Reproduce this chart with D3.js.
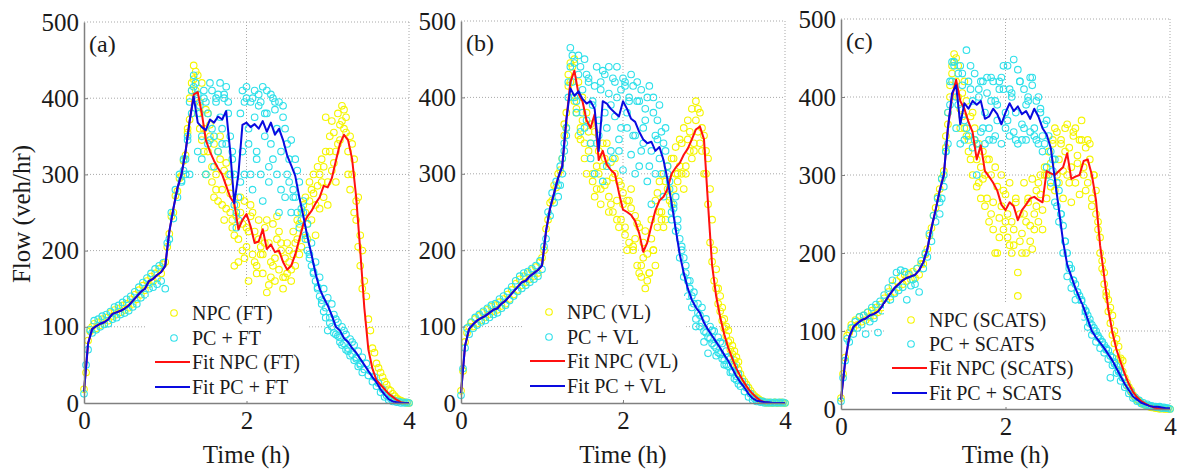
<!DOCTYPE html>
<html><head><meta charset="utf-8">
<script src="https://cdn.jsdelivr.net/npm/d3@7"></script>
<style>
body{margin:0;background:#fff}
svg{display:block}
text{font-family:"Liberation Serif","Times New Roman",serif;fill:#1a1a1a}
</style>
</head><body>
<svg id="chart" width="1183" height="469"></svg>
<script>
// ---------- tick labels / text ----------
const xTicks = [0, 2, 4];
const yTicks = [0, 100, 200, 300, 400, 500];
const panelLabels = ["(a)", "(b)", "(c)"];
const legendA = ["NPC (FT)", "PC + FT", "Fit NPC (FT)", "Fit PC + FT"];
const legendB = ["NPC (VL)", "PC + VL", "Fit NPC (VL)", "Fit PC + VL"];
const legendC = ["NPC (SCATS)", "PC + SCATS", "Fit NPC (SCATS)", "Fit PC + SCATS"];

// ---------- sampling steps (hours) ----------
const fitStep = 0.05;      // fitted curves: t = 0, 0.05, ... 4
const scatterStep = 0.025; // scatter series: t = 0, 0.025, ... 4
const extraStart = 1.2, extra2Start = 1.225, extraStep = 0.05; // extra scatter in the congested period

// ---------- panel (a) FT ----------
const fitNpcA = [15,78,97,101,104,106,110,117,119,121,124,128,134,140,146,150,160,163,168,172,180,225,255,282,300,330,370,
 405,408,380,345,330,318,308,300,285,270,262,228,240,248,232,210,212,228,202,208,198,200,185,175,180,195,215,235,245,252,262,270,285,283,295,318,340,352,345,320,270,200,125,70,45,30,24,18,12,8,4,1,0,0];
const fitPcA = [15,78,97,101,104,106,110,117,119,121,124,128,134,140,146,150,160,163,168,172,180,225,255,282,300,330,370,402,368,362,
 358,372,368,376,372,383,330,262,300,365,368,362,366,360,370,356,368,352,360,345,325,312,298,270,245,218,195,170,150,138,
 128,115,100,95,85,80,72,66,58,50,42,34,27,18,11,5,2,1,0,0,0];
const npcScatterA = [18,40,82,94,100,104,98,106,102,110, 104,112,108,118,114,122,116,124,119,128, 122,130,125,136,130,142,136,148,142,154,
 148,160,156,166,160,170,164,176,170,182, 185,205,222,245,250,272,278,295,298,318, 325,355,372,420,443,410,430,395,420,360,
 385,330,350,290,340,300,265,320,280,305, 255,290,275,240,180,260,215,250,200,265, 230,160,245,195,225,180,240,205,170,230,
 145,210,185,235,160,215,175,200,165,190, 170,200,160,195,180,215,195,250,225,270, 235,290,240,300,220,285,255,320,270,375,
 290,330,305,355,330,380,345,390,360,375, 330,350,300,320,265,270,220,200,160,140, 110,95,72,66,52,46,40,34,28,24, 18,16,12,9,6,4,3,2,1,0,0];
const pcScatterA = [12,50,70,96,92,108,96,110,100,114, 103,116,104,120,110,126,112,128,116,132, 118,136,121,140,126,146,130,152,138,158,
 142,164,150,170,152,176,156,180,160,184, 150,210,215,250,242,280,270,300,292,320, 300,345,300,380,415,400,330,390,320,410,
 300,380,345,410,350,395,330,420,360,400, 340,380,300,320,260,230,240,380,410,300, 400,340,395,280,410,330,390,300,415,350,
 380,290,405,320,385,300,395,330,375,270, 340,290,345,280,320,250,290,240,265,220, 235,195,210,170,185,150,165,135,150,125,
 138,112,100,116,90,106,86,100,78,90, 72,84,64,76,58,68,52,60,44,52, 36,42,28,34,22,26,14,18,8,10, 4,6,2,3,1,2,0,1,0,1,0];
const npcExtraA = [null,null,400,425,380,345,300,365,270,330, 260,315,250,220,185,235,205,260,185,215, 195,240,165,190,225,150,210,175,210,235,
 260,215,280,260,300,310,260,370,290,365, 385,300,340,240,180];
const pcExtraA = [290,320,395,430,405,350,395,420,310,405, 340,415,350,300,270,330,415,300,375,405, 265,410,340,395,250,390,300,250,270,230,
 250,200,180,160,140,120,95,130,110,80, 95,68,80,60,50];
const npcExtra2A = [null,360,410,435,360,330,380,310,280,350, 240,300,230,245,270,190,225,250,170,195, 210,155,180,245,210,165,185,225,240,205,
 250,265,275,310,290,330,350,315,340,370, 355,280,250,205,150];
const pcExtra2A = [305,350,410,420,380,400,340,360,400,375, 405,395,330,250,290,395,360,400,320,395, 380,310,400,360,280,360,320,270,305,255,
 215,190,172,152,130,112,105,92,88,76, 70,62,56,48,40];

// ---------- panel (b) VL ----------
const fitNpcB = [13,75,97,103,108,111,114,118,122,124,130,134,140,146,152,158,160,166,170,174,180,225,255,275,295,310,
 370,420,435,405,395,370,360,378,318,330,312,305,300,275,253,250,246,238,222,198,210,232,252,265,270,280,300,308,314,325,333,345,358,362,
 345,260,180,140,112,90,72,58,45,35,26,18,12,7,3,1,0,0,0,0,0];
const fitPcB = [13,75,97,103,108,111,114,118,122,124, 130,134,140,146,152,158,160,166,170,174, 180,225,255,275,295,310,370,412,402,408,
 398,392,395,385,330,395,392,385,380,375, 395,385,372,368,355,345,340,342,330,335, 318,292,262,228,195,170,150,135,125,118,
 105,96,88,80,72,63,55,45,35,27, 20,12,6,3,2,1,1,0,0,0,0];
const npcScatterB = [16,42,80,92,100,105,100,110,104,114, 108,118,112,122,116,126,120,128,122,132, 127,136,130,142,136,148,142,156,148,162,
 154,166,158,170,162,174,166,178,170,184, 190,200,228,240,262,265,285,282,300,305, 320,350,380,415,445,400,450,385,420,360,
 400,340,380,330,365,300,355,280,330,260, 310,285,340,270,315,250,300,265,290,240, 275,220,265,210,255,200,245,180,230,165,
 210,150,195,170,240,200,265,230,290,250, 300,240,310,265,320,280,335,290,345,300, 360,310,370,330,385,340,395,355,380,330,
 350,300,260,210,185,160,150,130,120,108, 98,88,80,70,64,56,50,44,38,32, 28,24,20,16,12,9,7,5,3,2, 1,0,1,0,0,1,0,0,1,0,0];
const pcScatterB = [10,45,72,98,90,106,98,112,102,116, 106,120,108,124,112,128,116,130,118,136, 124,140,128,146,134,152,140,160,146,166,
 150,170,154,172,158,176,162,180,166,186, 175,205,215,250,245,275,262,290,285,310, 300,340,360,400,465,420,445,380,430,355,
 410,450,370,420,340,395,300,440,350,410, 290,430,360,405,330,425,375,440,345,410, 305,420,360,400,325,415,350,395,310,410,
 340,385,290,415,330,380,300,370,320,355, 270,330,300,280,250,260,225,240,190,205, 165,180,140,160,125,145,110,130,100,125,
 94,110,86,100,78,94,72,86,64,78, 56,68,48,58,40,48,30,38,22,28, 15,20,8,12,4,6,2,3,1,2, 0,1,0,1,0,1,0,1,0,1,0];
const npcExtraB = [null,null,360,420,395,350,370,300,340,270, 300,340,290,260,320,230,260,200,280,215, 170,190,160,215,180,250,230,280,260,300,
 310,280,345,320,370,340,300,320,240,175, 140,110,95,75,60];
const pcExtraB = [270,320,350,440,400,455,380,430,320,415, 370,435,310,390,420,330,425,380,430,300, 395,360,400,260,350,390,340,310,240,270,
 215,190,160,140,100,115,80,65,95,62, 80,50,60,42,35];
const npcExtra2B = [null,365,430,440,380,345,320,355,290,310, 280,320,250,295,240,285,230,265,205,235, 180,225,170,200,275,240,290,270,320,300,
 340,300,355,330,385,360,330,280,200,150, 125,100,82,68,54];
const pcExtra2B = [285,330,420,455,395,440,360,425,390,340, 420,380,440,320,400,360,415,395,350,420, 330,370,310,400,345,300,360,290,255,230,
 200,170,150,130,118,105,92,84,75,66, 58,50,40,32,25];

// ---------- panel (c) SCATS ----------
const fitNpcC = [12,60,92,105,110,114,116,120,122,125,132,140,148,155,160,165,168,170,172,178,188,205,232,255,280,300,360,
 400,422,395,385,368,355,320,338,305,298,290,280,262,255,265,260,242,255,262,270,272,268,265,305,302,300,305,310,328,295,298,300,318,
 320,300,268,210,170,128,98,76,60,45,32,22,15,10,7,4,2,1,1,0,0];
const fitPcC = [12,60,92,105,110,114,116,120,122,125, 132,140,148,155,160,165,168,170,172,178, 188,205,232,255,280,300,360,405,415,365,
 392,385,395,390,395,372,375,385,378,365, 380,392,382,388,378,382,372,385,375,360, 352,335,295,255,215,185,170,155,142,130,
 115,100,92,85,78,70,62,52,42,32, 24,16,12,8,6,4,3,3,2,1,1];
const npcScatterC = [14,45,66,94,98,108,104,114,108,118, 112,120,114,124,118,126,120,130,124,134, 130,142,138,150,144,158,150,164,156,170,
 160,172,164,174,166,176,168,180,172,186, 186,198,205,222,232,248,258,272,282,296, 305,335,365,400,440,455,420,440,385,405,
 360,395,330,375,300,360,285,340,310,295, 260,320,240,300,265,200,285,245,300,230, 275,220,290,240,210,270,145,250,225,290,
 200,265,235,295,250,280,240,300,255,310, 270,330,285,345,280,355,290,340,270,360, 300,335,265,350,290,325,275,345,300,335,
 290,320,270,300,250,230,200,180,160,145, 125,110,95,84,72,64,56,48,40,34, 28,24,18,15,12,10,8,6,5,4, 3,2,2,1,1,0,1,0,0,0,0];
const pcScatterC = [10,40,62,90,86,104,96,112,104,118, 108,120,96,124,112,130,116,134,98,138, 126,146,134,155,140,165,148,175,152,178,
 156,176,140,172,158,166,160,180,150,190, 180,200,195,225,215,248,240,270,265,295, 285,330,340,390,420,445,400,430,340,415,
 370,460,350,410,335,430,300,400,355,420, 340,405,360,425,345,395,370,420,340,410, 360,440,350,405,448,380,340,420,365,410,
 345,400,355,425,350,395,340,380,330,365, 310,350,290,320,265,290,240,250,200,215, 170,185,155,165,140,150,128,140,118,126,
 105,115,95,104,86,94,78,86,72,78, 64,40,56,60,46,50,36,40,28,30, 20,22,14,15,10,11,7,8,5,6, 4,4,3,3,2,3,1,2,1,1,0];
const npcExtraC = [null,null,380,430,450,360,420,345,380,320, 270,300,320,230,200,260,240,210,230,175, 200,240,215,230,290,230,300,315,360,320,
 305,365,310,360,345,310,345,260,280,220, 175,140,120,90,65];
const pcExtraC = [250,300,380,445,360,440,345,420,395,340, 420,380,345,420,390,425,380,410,355,435, 345,390,425,360,400,350,370,330,320,280,
 235,200,180,160,145,130,120,108,100,90, 82,75,66,55,46];
const npcExtra2C = [null,350,415,445,400,375,350,320,345,290, 330,270,250,310,220,280,250,200,265,215, 250,270,205,260,275,300,330,340,300,345,
 330,290,355,315,370,280,340,300,240,190, 150,130,100,80,62];
const pcExtra2C = [270,330,420,440,390,430,360,440,345,410, 360,425,395,350,410,440,370,400,345,420, 360,395,415,345,385,340,300,305,260,250,
 215,180,165,150,138,125,110,100,92,86, 76,68,58,48,40];

// ---------- layout (positions / styles) ----------
const COL = {npc:"#f5f500", pc:"#2fe0ea", npcFit:"#ff1010", pcFit:"#0a0ae0", axis:"#808080", grid:"#a8a8a8"};
const panels = [
  {label:panelLabels[0], legend:legendA, npcFit:fitNpcA, pcFit:fitPcA, npcPts:npcScatterA, pcPts:pcScatterA,
   npcEx:[npcExtraA, npcExtra2A], pcEx:[pcExtraA, pcExtra2A], l:84, r:409, t:22, b:403, legX:155, rows:[313,338,362,387]},
  {label:panelLabels[1], legend:legendB, npcFit:fitNpcB, pcFit:fitPcB, npcPts:npcScatterB, pcPts:pcScatterB,
   npcEx:[npcExtraB, npcExtra2B], pcEx:[pcExtraB, pcExtra2B], l:461, r:785, t:21, b:403, legX:530, rows:[312,337,361,386]},
  {label:panelLabels[2], legend:legendC, npcFit:fitNpcC, pcFit:fitPcC, npcPts:npcScatterC, pcPts:pcScatterC,
   npcEx:[npcExtraC, npcExtra2C], pcEx:[pcExtraC, pcExtra2C], l:841, r:1170, t:19, b:409, legX:892, rows:[320,344,368,393]}
];

const svg = d3.select("#chart");

panels.forEach((p) => {
  const x = d3.scaleLinear().domain([0, 4]).range([p.l, p.r]);
  const y = d3.scaleLinear().domain([0, 500]).range([p.b, p.t]);
  const g = svg.append("g");

  // grid
  g.append("g").selectAll("line").data(yTicks.filter(v => v > 0)).join("line")
    .attr("x1", p.l).attr("x2", p.r).attr("y1", d => y(d)).attr("y2", d => y(d))
    .attr("stroke", COL.grid).attr("stroke-width", 1).attr("stroke-dasharray", "1,2");
  g.append("g").selectAll("line").data(xTicks.filter(v => v > 0)).join("line")
    .attr("y1", p.t).attr("y2", p.b).attr("x1", d => x(d)).attr("x2", d => x(d))
    .attr("stroke", COL.grid).attr("stroke-width", 1).attr("stroke-dasharray", "1,2");

  // scatter
  const mainPts = arr => arr.map((v, i) => ({t: i * scatterStep, v}));
  const extraPts = (arr, start) => arr.map((v, i) => ({t: start + i * extraStep, v})).filter(d => d.v !== null);
  function drawPts(data, color) {
    g.append("g").selectAll("circle").data(data).join("circle")
      .attr("cx", d => x(d.t)).attr("cy", d => y(d.v)).attr("r", 3.3)
      .attr("fill", "none").attr("stroke", color).attr("stroke-width", 1.1);
  }
  drawPts(mainPts(p.npcPts).concat(extraPts(p.npcEx[0], extraStart), extraPts(p.npcEx[1], extra2Start)), COL.npc);
  drawPts(mainPts(p.pcPts).concat(extraPts(p.pcEx[0], extraStart), extraPts(p.pcEx[1], extra2Start)), COL.pc);

  // fitted lines
  const line = d3.line().x((d, i) => x(i * fitStep)).y(d => y(d));
  g.append("path").datum(p.npcFit).attr("d", line).attr("fill", "none")
    .attr("stroke", COL.npcFit).attr("stroke-width", 2).attr("stroke-linejoin", "round");
  g.append("path").datum(p.pcFit).attr("d", line).attr("fill", "none")
    .attr("stroke", COL.pcFit).attr("stroke-width", 2).attr("stroke-linejoin", "round");

  // axes
  const ax = g.append("g").attr("transform", `translate(0,${p.b})`)
    .call(d3.axisBottom(x).tickValues(xTicks).tickSize(-4).tickSizeOuter(0).tickPadding(8).tickFormat(d3.format("d")));
  const ay = g.append("g").attr("transform", `translate(${p.l},0)`)
    .call(d3.axisLeft(y).tickValues(yTicks).tickSize(-4).tickSizeOuter(0).tickPadding(5).tickFormat(d3.format("d")));
  [ax, ay].forEach(a => {
    a.attr("font-family", null);
    a.select(".domain").attr("stroke", COL.axis).attr("stroke-width", 1.5);
    a.selectAll(".tick line").attr("stroke", COL.axis);
    a.selectAll(".tick text").attr("font-size", 25).attr("fill", "#1a1a1a")
      .style("font-family", "'Liberation Serif','Times New Roman',serif");
  });
  ay.selectAll(".tick").filter(d => d === 500 || d === 0).select("line").remove();
  ax.selectAll(".tick").filter(d => d === 0 || d === 4).select("line").remove();

  // x title
  g.append("text").attr("x", (p.l + p.r) / 2).attr("y", 463).attr("text-anchor", "middle")
    .attr("font-size", 25).text("Time (h)");

  // panel label
  g.append("text").attr("x", p.l + 5).attr("y", p.t + 30).attr("font-size", 24).text(p.label);

  // legend
  const lg = g.append("g");
  const bg = lg.append("rect").attr("fill", "#fff");
  const textX = p.legX + 37;
  let maxW = 0;
  p.legend.forEach((s, k) => {
    const ry = p.rows[k];
    if (k < 2) {
      lg.append("circle").attr("cx", p.legX + 19).attr("cy", ry).attr("r", 3.3)
        .attr("fill", "none").attr("stroke", k === 0 ? COL.npc : COL.pc).attr("stroke-width", 1.1);
    } else {
      lg.append("line").attr("x1", p.legX).attr("x2", p.legX + 35).attr("y1", ry).attr("y2", ry)
        .attr("stroke", k === 2 ? COL.npcFit : COL.pcFit).attr("stroke-width", 2);
    }
    const tx = lg.append("text").attr("x", textX).attr("y", ry + 7).attr("font-size", 20).text(s);
    maxW = Math.max(maxW, tx.node().getComputedTextLength());
  });
  bg.attr("x", p.legX - 8).attr("y", p.rows[0] - 16).attr("width", textX + maxW + 8 - (p.legX - 8))
    .attr("height", p.rows[3] - p.rows[0] + 30);
});

// y title (first panel only)
svg.append("text").attr("transform", "translate(30,214) rotate(-90)").attr("text-anchor", "middle")
  .attr("font-size", 25).text("Flow (veh/hr)");
</script>
</body></html>
